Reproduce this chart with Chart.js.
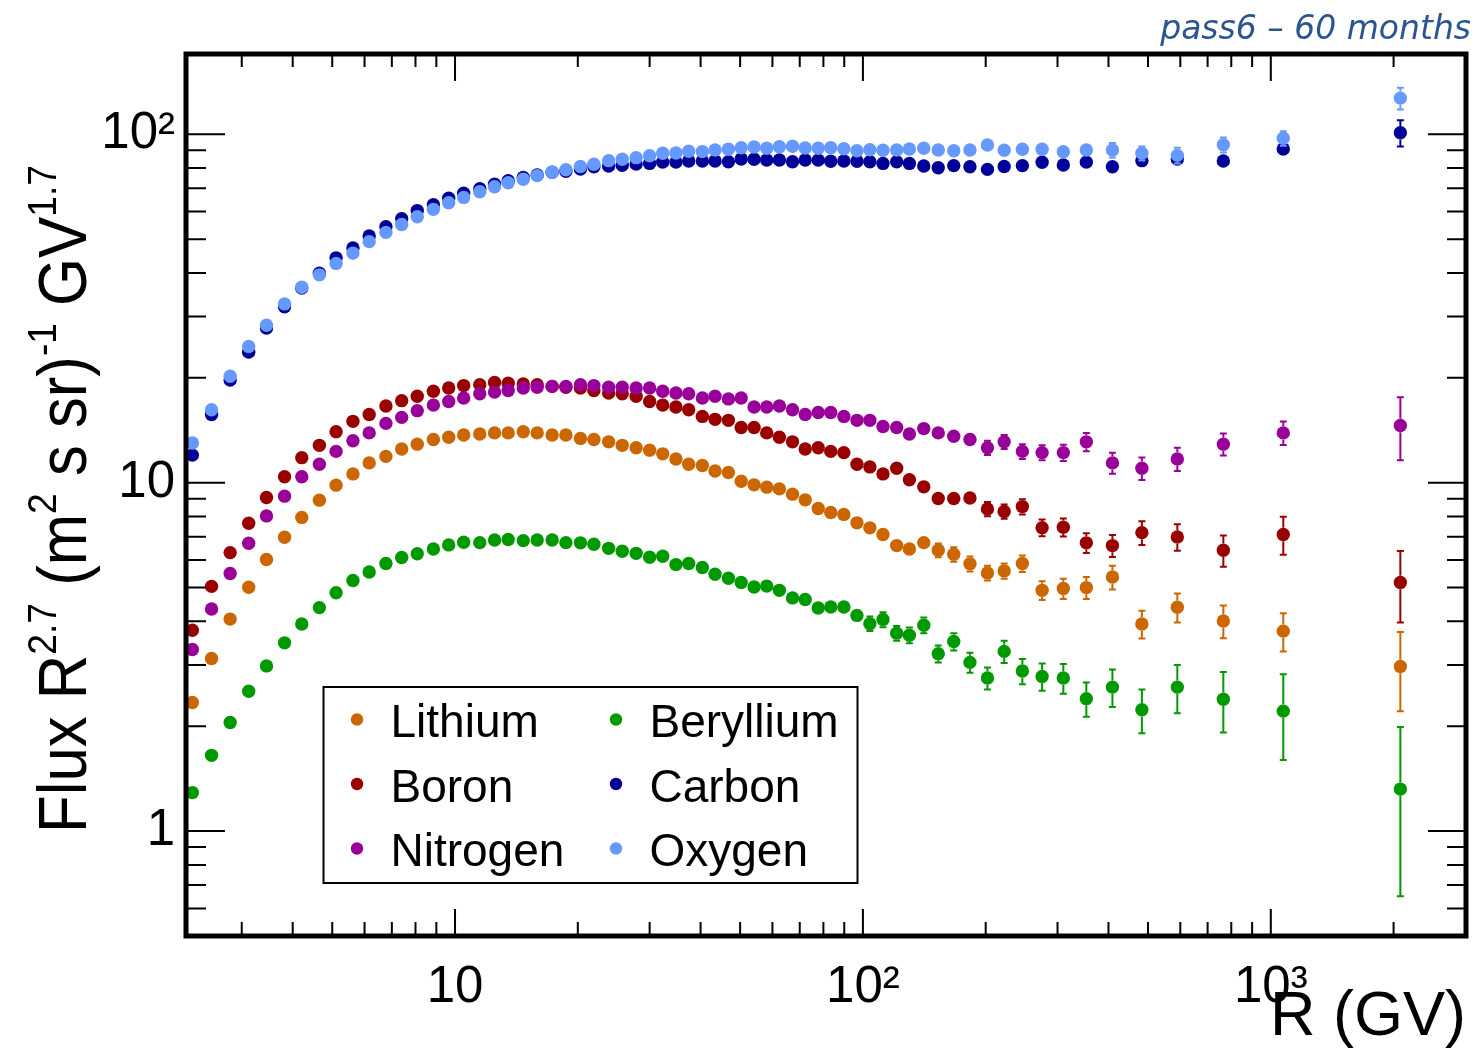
<!DOCTYPE html>
<html>
<head>
<meta charset="utf-8">
<title>Flux R^2.7 vs rigidity</title>
<script src="https://cdn.jsdelivr.net/npm/chart.js@4.4.0/dist/chart.umd.min.js"></script>
<style>
  html, body { margin: 0; padding: 0; background: #fff; }
  #wrap { position: relative; width: 1479px; height: 1052px; }
</style>
</head>
<body>
<div id="wrap"><canvas id="fluxChart"></canvas></div>
<script>
// rigidity bin centres (GV)
const rigidity = [2.27, 2.53, 2.81, 3.12, 3.45, 3.82, 4.21, 4.65, 5.11, 5.62,
  6.16, 6.77, 7.40, 8.08, 8.85, 9.65, 10.5, 11.5, 12.5, 13.5,
  14.7, 15.9, 17.3, 18.7, 20.3, 21.9, 23.8, 25.7, 27.8, 30.0,
  32.3, 34.8, 37.4, 40.4, 43.4, 46.8, 50.3, 54.1, 58.1, 62.4,
  67.2, 72.2, 77.7, 83.4, 89.8, 96.7, 104, 112, 121, 130,
  141, 153, 167, 183, 202, 222, 246, 275, 310, 353,
  409, 483, 590, 765, 1073, 2078];

// flux * R^2.7  and its error, one pair per element
const lithium = [2.34, 3.13, 4.06, 5.01, 6.02, 6.97, 7.95, 8.91, 9.84, 10.6,
  11.4, 11.9, 12.5, 12.9, 13.3, 13.5, 13.7, 13.8, 13.9, 13.9,
  14.0, 13.9, 13.7, 13.7, 13.4, 13.3, 13.1, 12.8, 12.6, 12.4,
  12.1, 11.7, 11.3, 11.2, 10.8, 10.7, 10.1, 9.86, 9.71, 9.60,
  9.27, 8.93, 8.43, 8.21, 8.11, 7.67, 7.42, 7.10, 6.60, 6.45,
  6.73, 6.40, 6.23, 5.85, 5.51, 5.58, 5.86, 4.91, 4.97, 5.00,
  5.36, 3.93, 4.39, 4.01, 3.75, 2.97];
const lithiumErr = [0.02, 0.03, 0.04, 0.05, 0.05, 0.06, 0.07, 0.08, 0.08, 0.09,
  0.09, 0.10, 0.10, 0.10, 0.10, 0.10, 0.11, 0.11, 0.11, 0.11,
  0.12, 0.12, 0.12, 0.12, 0.12, 0.12, 0.12, 0.12, 0.12, 0.12,
  0.12, 0.12, 0.12, 0.12, 0.12, 0.12, 0.12, 0.12, 0.12, 0.12,
  0.13, 0.13, 0.13, 0.13, 0.14, 0.14, 0.15, 0.16, 0.17, 0.18,
  0.20, 0.29, 0.30, 0.29, 0.27, 0.28, 0.32, 0.30, 0.33, 0.36,
  0.42, 0.36, 0.42, 0.43, 0.47, 0.76];

const beryllium = [1.29, 1.65, 2.05, 2.52, 2.98, 3.47, 3.93, 4.38, 4.83, 5.24,
  5.54, 5.86, 6.10, 6.25, 6.45, 6.63, 6.75, 6.73, 6.85, 6.87,
  6.82, 6.85, 6.85, 6.73, 6.72, 6.66, 6.48, 6.36, 6.27, 6.11,
  6.15, 5.82, 5.86, 5.71, 5.46, 5.32, 5.17, 5.02, 5.05, 4.91,
  4.67, 4.62, 4.37, 4.40, 4.40, 4.16, 3.94, 4.05, 3.70, 3.65,
  3.90, 3.23, 3.50, 3.05, 2.75, 3.28, 2.88, 2.78, 2.75, 2.40,
  2.59, 2.23, 2.59, 2.39, 2.21, 1.32];
const berylliumErr = [0.01, 0.02, 0.02, 0.03, 0.03, 0.04, 0.04, 0.05, 0.05, 0.06,
  0.06, 0.06, 0.07, 0.07, 0.07, 0.07, 0.08, 0.08, 0.08, 0.08,
  0.08, 0.09, 0.09, 0.09, 0.09, 0.09, 0.09, 0.09, 0.09, 0.09,
  0.09, 0.09, 0.09, 0.09, 0.09, 0.09, 0.09, 0.09, 0.10, 0.10,
  0.10, 0.10, 0.10, 0.11, 0.12, 0.13, 0.19, 0.20, 0.18, 0.19,
  0.20, 0.18, 0.20, 0.20, 0.20, 0.24, 0.24, 0.25, 0.27, 0.27,
  0.32, 0.32, 0.41, 0.47, 0.61, 0.67];

const boron = [3.77, 5.04, 6.30, 7.65, 9.07, 10.4, 11.8, 12.8, 14.0, 15.0,
  15.7, 16.6, 17.2, 17.7, 18.3, 18.7, 19.0, 19.1, 19.4, 19.3,
  19.2, 19.1, 18.9, 18.8, 18.7, 18.4, 18.1, 18.0, 17.7, 17.1,
  16.7, 16.5, 16.2, 15.5, 15.2, 15.1, 14.4, 14.4, 13.9, 13.5,
  13.1, 12.5, 12.6, 12.3, 12.2, 11.3, 11.1, 10.6, 11.0, 10.2,
  9.73, 9.01, 9.01, 9.04, 8.41, 8.27, 8.54, 7.43, 7.45, 6.72,
  6.60, 7.19, 6.99, 6.40, 7.10, 5.17];
const boronErr = [0.03, 0.04, 0.05, 0.06, 0.07, 0.08, 0.09, 0.10, 0.10, 0.11,
  0.11, 0.12, 0.12, 0.12, 0.13, 0.13, 0.13, 0.13, 0.14, 0.14,
  0.14, 0.14, 0.14, 0.14, 0.14, 0.14, 0.14, 0.14, 0.14, 0.14,
  0.14, 0.14, 0.14, 0.14, 0.14, 0.15, 0.15, 0.15, 0.15, 0.15,
  0.15, 0.15, 0.15, 0.16, 0.16, 0.17, 0.17, 0.18, 0.19, 0.20,
  0.22, 0.25, 0.30, 0.30, 0.40, 0.39, 0.43, 0.41, 0.44, 0.44,
  0.48, 0.56, 0.61, 0.66, 0.89, 1.20];

const carbon = [12.0, 15.7, 19.7, 23.7, 27.8, 32.0, 36.2, 39.9, 44.2, 47.2,
  51.1, 54.3, 57.2, 60.4, 62.8, 65.5, 67.7, 69.8, 71.9, 73.6,
  75.2, 76.4, 77.8, 78.3, 79.5, 80.7, 81.1, 81.5, 82.2, 82.5,
  83.2, 83.2, 83.8, 83.8, 83.8, 83.4, 84.9, 84.8, 84.4, 84.4,
  83.4, 84.4, 84.3, 83.7, 83.8, 83.7, 83.4, 82.5, 83.4, 82.5,
  81.1, 80.2, 81.3, 80.7, 79.3, 80.8, 81.3, 83.1, 81.6, 83.2,
  80.7, 84.0, 84.9, 83.8, 90.7, 101];
const carbonErr = [0.10, 0.10, 0.15, 0.20, 0.20, 0.20, 0.25, 0.25, 0.30, 0.30,
  0.30, 0.30, 0.30, 0.35, 0.35, 0.35, 0.35, 0.40, 0.40, 0.40,
  0.40, 0.40, 0.40, 0.40, 0.40, 0.40, 0.40, 0.40, 0.40, 0.40,
  0.40, 0.40, 0.40, 0.40, 0.40, 0.45, 0.45, 0.45, 0.45, 0.45,
  0.45, 0.45, 0.45, 0.50, 0.50, 0.60, 0.70, 0.80, 0.90, 1.0,
  1.1, 1.2, 1.3, 1.4, 1.5, 1.7, 1.9, 2.1, 2.3, 2.6,
  3.0, 3.3, 3.5, 3.6, 3.8, 8.7];

const nitrogen = [3.32, 4.34, 5.49, 6.70, 8.03, 9.15, 10.4, 11.3, 12.3, 13.2,
  13.9, 14.8, 15.4, 16.1, 16.7, 17.1, 17.5, 18.0, 18.2, 18.4,
  18.7, 18.8, 18.9, 18.9, 19.1, 19.0, 18.8, 18.8, 18.7, 18.7,
  18.3, 18.1, 18.0, 17.5, 17.7, 17.4, 17.5, 16.5, 16.5, 16.6,
  16.2, 15.7, 15.9, 15.9, 15.5, 15.1, 15.1, 14.5, 14.4, 13.8,
  14.3, 13.9, 13.6, 13.3, 12.6, 13.1, 12.3, 12.2, 12.2, 13.1,
  11.4, 11.0, 11.7, 12.9, 13.9, 14.6];
const nitrogenErr = [0.03, 0.04, 0.05, 0.06, 0.07, 0.08, 0.09, 0.10, 0.10, 0.11,
  0.11, 0.12, 0.12, 0.13, 0.13, 0.13, 0.14, 0.14, 0.14, 0.15,
  0.15, 0.15, 0.15, 0.15, 0.15, 0.15, 0.15, 0.15, 0.15, 0.15,
  0.15, 0.15, 0.15, 0.15, 0.15, 0.16, 0.16, 0.16, 0.16, 0.16,
  0.16, 0.16, 0.16, 0.17, 0.18, 0.19, 0.20, 0.22, 0.24, 0.27,
  0.30, 0.33, 0.40, 0.45, 0.60, 0.60, 0.60, 0.60, 0.66, 0.78,
  0.79, 0.82, 0.89, 0.94, 1.08, 3.0];

const oxygen = [13.0, 16.2, 20.2, 24.6, 28.3, 32.6, 36.4, 39.5, 42.6, 45.6,
  49.2, 52.3, 55.1, 58.0, 60.9, 63.6, 65.9, 68.4, 70.7, 72.6,
  74.3, 76.1, 77.8, 79.1, 80.8, 82.0, 84.0, 84.8, 85.7, 86.8,
  88.2, 88.4, 89.4, 89.2, 90.1, 90.6, 91.5, 91.9, 91.2, 92.1,
  92.4, 91.3, 91.2, 91.5, 90.9, 89.7, 90.3, 90.0, 90.1, 90.7,
  91.2, 90.1, 89.7, 90.1, 93.2, 90.0, 90.6, 90.6, 89.1, 90.1,
  90.1, 88.2, 87.0, 93.3, 97.4, 127];
const oxygenErr = [0.10, 0.10, 0.15, 0.20, 0.20, 0.20, 0.25, 0.25, 0.30, 0.30,
  0.30, 0.30, 0.30, 0.35, 0.35, 0.35, 0.35, 0.40, 0.40, 0.40,
  0.40, 0.40, 0.40, 0.45, 0.45, 0.45, 0.45, 0.45, 0.45, 0.45,
  0.45, 0.45, 0.45, 0.45, 0.45, 0.50, 0.50, 0.50, 0.50, 0.50,
  0.50, 0.50, 0.50, 0.60, 0.60, 0.70, 0.80, 0.90, 1.0, 1.1,
  1.2, 1.3, 1.5, 1.6, 1.8, 2.0, 2.2, 2.4, 2.7, 3.0,
  4.3, 4.1, 4.5, 4.6, 4.7, 9.1];

const seriesNames = ['Lithium', 'Beryllium', 'Boron', 'Carbon', 'Nitrogen', 'Oxygen'];
const seriesValues = [lithium, beryllium, boron, carbon, nitrogen, oxygen];
const seriesErrors = [lithiumErr, berylliumErr, boronErr, carbonErr, nitrogenErr, oxygenErr];

const xTickValues = [10, 100, 1000];
const xTickLabels = ['10', '10²', '10³'];
const yTickValues = [1, 10, 100];
const yTickLabels = ['1', '10', '10²'];

const xTitle = 'R (GV)';
const yTitleParts = [['Flux R', false], ['2.7', true], [' (m', false], ['2', true],
  [' s sr)', false], ['-1', true], [' GV', false], ['1.7', true]];
const cornerNote = 'pass6 – 60 months';

// styling
const colors = ['#cc6600', '#009900', '#990000', '#000099', '#990099', '#6699ff'];
const FONT = '"Liberation Sans", Arial, Helvetica, sans-serif';
const MARKER_R = 6.7;

// ROOT-like error bars: only the part outside the marker, with small caps
const errorBars = {
  id: 'errorBars',
  beforeDatasetDraw(chart, args) {
    const ds = chart.data.datasets[args.index];
    if (!ds.errors) return;
    const { ctx, chartArea, scales: { x, y } } = chart;
    ctx.save();
    ctx.strokeStyle = ds.backgroundColor;
    ctx.lineWidth = 2;
    ctx.beginPath();
    ds.data.forEach((p, i) => {
      const e = ds.errors[i];
      const px = x.getPixelForValue(p.x);
      const py = y.getPixelForValue(p.y);
      const up = y.getPixelForValue(p.y + e);
      const dn = p.y - e > 0 ? y.getPixelForValue(p.y - e) : chartArea.bottom;
      if (py - up > MARKER_R) {
        ctx.moveTo(px, py - MARKER_R); ctx.lineTo(px, up);
        ctx.moveTo(px - 3.5, up); ctx.lineTo(px + 3.5, up);
      }
      if (dn - py > MARKER_R) {
        ctx.moveTo(px, py + MARKER_R); ctx.lineTo(px, dn);
        ctx.moveTo(px - 3.5, dn); ctx.lineTo(px + 3.5, dn);
      }
    });
    ctx.stroke();
    ctx.restore();
  }
};

// thick frame with inward ticks on all four sides
const rootFrame = {
  id: 'rootFrame',
  afterDatasetsDraw(chart) {
    const { ctx, chartArea: a, scales: { x, y } } = chart;
    ctx.save();
    ctx.strokeStyle = '#000';
    ctx.lineWidth = 2;
    ctx.beginPath();
    for (let e = 0; e <= 3; e++) {
      for (let m = 1; m <= 9; m++) {
        const v = m * Math.pow(10, e);
        if (v < x.min || v > x.max) continue;
        const px = x.getPixelForValue(v);
        const major = m === 1;
        ctx.moveTo(px, a.bottom); ctx.lineTo(px, a.bottom - (major ? 27 : 14));
        ctx.moveTo(px, a.top); ctx.lineTo(px, a.top + (major ? 27 : 13));
      }
    }
    for (let e = -1; e <= 2; e++) {
      for (let m = 1; m <= 9; m++) {
        const v = m * Math.pow(10, e);
        if (v < y.min || v > y.max) continue;
        const py = y.getPixelForValue(v);
        const major = m === 1;
        ctx.moveTo(a.left, py); ctx.lineTo(a.left + (major ? 39 : 20), py);
        ctx.moveTo(a.right, py); ctx.lineTo(a.right - (major ? 38 : 19), py);
      }
    }
    ctx.stroke();
    ctx.lineWidth = 5;
    ctx.strokeRect(a.left, a.top, a.right - a.left, a.bottom - a.top);
    ctx.restore();
  }
};

// legend box, y title with superscripts, corner note
const overlay = {
  id: 'overlay',
  afterDraw(chart) {
    const ctx = chart.ctx;
    ctx.save();
    ctx.fillStyle = '#fff';
    ctx.fillRect(323.5, 687, 534, 196);
    ctx.lineWidth = 2;
    ctx.strokeStyle = '#000';
    ctx.strokeRect(323.5, 687, 534, 196);
    ctx.font = '46px ' + FONT;
    ctx.textAlign = 'left';
    ctx.textBaseline = 'alphabetic';
    chart.data.datasets.forEach((ds, i) => {
      const col = i % 2, row = Math.floor(i / 2);
      const mx = 357 + col * 259, my = 719.5 + row * 64.5;
      ctx.fillStyle = ds.backgroundColor;
      ctx.beginPath();
      ctx.arc(mx, my, 6.2, 0, Math.PI * 2);
      ctx.fill();
      ctx.fillStyle = '#000';
      ctx.fillText(ds.label, 390.5 + col * 259, my + 17.5);
    });

    // y title, rotated, squeezed along its length to fit the reference span
    const big = '68px ' + FONT, small = '41px ' + FONT;
    let total = 0;
    yTitleParts.forEach(([t, sup]) => { ctx.font = sup ? small : big; total += ctx.measureText(t).width; });
    const sx = 668 / total;
    ctx.translate(86, 833);
    ctx.rotate(-Math.PI / 2);
    ctx.scale(sx, 1);
    ctx.fillStyle = '#000';
    let pos = 0;
    yTitleParts.forEach(([t, sup]) => {
      ctx.font = sup ? small : big;
      ctx.fillText(t, pos, sup ? -30 : 0);
      pos += ctx.measureText(t).width;
    });
    ctx.restore();

    ctx.save();
    ctx.font = 'italic 33px "DejaVu Sans", sans-serif';
    ctx.fillStyle = '#2b5591';
    ctx.textAlign = 'right';
    ctx.textBaseline = 'alphabetic';
    ctx.fillText(cornerNote, 1471, 38.5);
    ctx.restore();
  }
};

const datasets = seriesNames.map((name, i) => ({
  label: name,
  data: rigidity.map((r, j) => ({ x: r, y: seriesValues[i][j] })),
  errors: seriesErrors[i],
  backgroundColor: colors[i],
  borderColor: colors[i],
  pointRadius: MARKER_R,
  pointHoverRadius: MARKER_R,
  pointBorderWidth: 0,
  showLine: false,
  order: seriesNames.length - i
}));

new Chart(document.getElementById('fluxChart'), {
  type: 'scatter',
  data: { datasets },
  plugins: [errorBars, rootFrame, overlay],
  options: {
    responsive: true,
    maintainAspectRatio: false,
    animation: false,
    devicePixelRatio: 1,
    layout: { padding: { left: 0, top: 54, right: 13, bottom: 0 } },
    plugins: { legend: { display: false }, tooltip: { enabled: false } },
    scales: {
      x: {
        type: 'logarithmic',
        position: 'bottom',
        min: 2.19,
        max: 3010,
        afterFit: s => { s.height = 116; },
        afterBuildTicks: s => { s.ticks = xTickValues.map(v => ({ value: v })); },
        grid: { display: false, drawTicks: false },
        border: { display: false },
        ticks: {
          autoSkip: false, maxRotation: 0, minRotation: 0, padding: 26,
          color: '#000', font: { family: FONT, size: 51, lineHeight: 1 },
          callback: (v, i) => xTickLabels[i]
        },
        title: {
          display: true, text: xTitle, align: 'end', color: '#000',
          font: { family: FONT, size: 63, lineHeight: 1 },
          padding: { top: 0, bottom: 3 }
        }
      },
      y: {
        type: 'logarithmic',
        min: 0.5,
        max: 170,
        afterFit: s => { s.width = 186; },
        afterBuildTicks: s => { s.ticks = yTickValues.map(v => ({ value: v })); },
        grid: { display: false, drawTicks: false },
        border: { display: false },
        ticks: {
          autoSkip: false, padding: 11,
          color: '#000', font: { family: FONT, size: 51, lineHeight: 1 },
          callback: (v, i) => yTickLabels[i]
        }
      }
    }
  }
});
</script>
</body>
</html>
